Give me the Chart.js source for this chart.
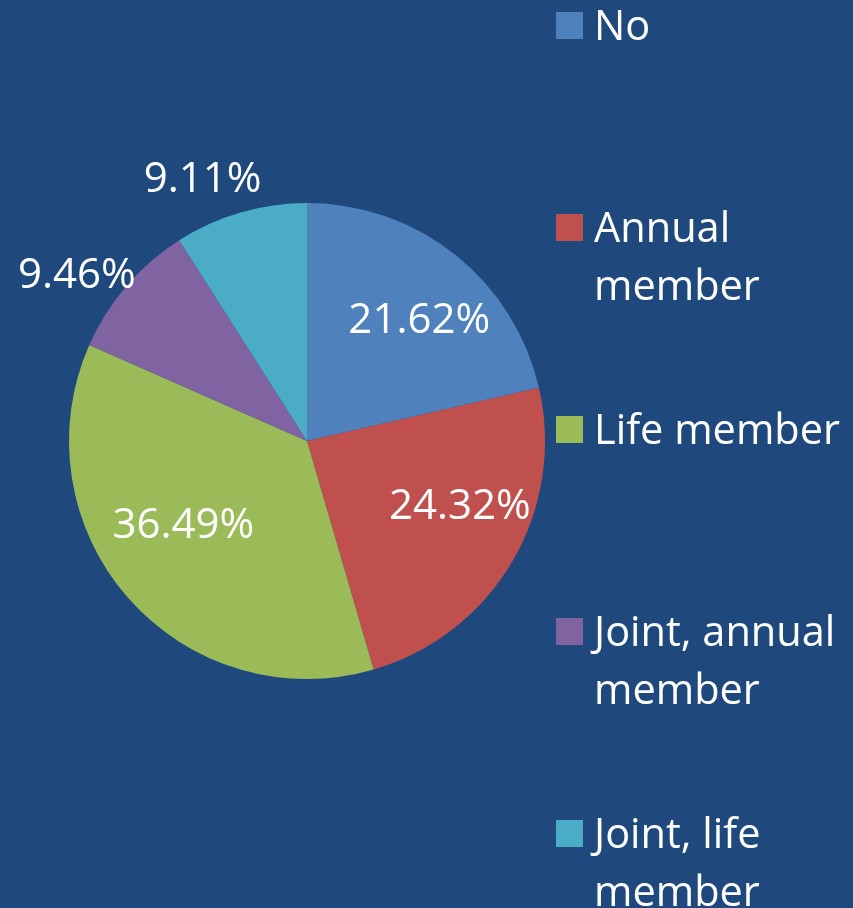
<!DOCTYPE html>
<html>
<head>
<meta charset="utf-8">
<script src="https://cdn.jsdelivr.net/npm/chart.js@4/dist/chart.umd.min.js"></script>
<style>
  html, body { margin: 0; padding: 0; background: #1F497D; }
  #wrap { position: relative; width: 853px; height: 908px; overflow: hidden; }
  #pie { position: absolute; left: 0; top: 0; }
  #legend { position: absolute; left: 556px; top: -5px; width: 297px; }
  .item { position: absolute; left: 0; display: flex; align-items: flex-start; }
  .box { width: 27px; height: 27px; margin-top: 17px; margin-right: 11px; flex: none; }
  .txt { color: #fff; font-family: "Open Sans", sans-serif; font-size: 41.5px; line-height: 58px; width: 258px; }
</style>
</head>
<body>
<div id="wrap">
  <canvas id="pie" width="853" height="908"></canvas>
  <div id="legend"></div>
</div>
<script>
const categories = ["No", "Annual member", "Life member", "Joint, annual member", "Joint, life member"]
const values = [21.62, 24.32, 36.49, 9.46, 9.11]
const valueLabels = ["21.62%", "24.32%", "36.49%", "9.46%", "9.11%"]
const colors = ["#4F81BD", "#C0504D", "#9BBB59", "#8064A2", "#4BACC6"]

// where each data label sits: fraction of radius, and a small angle nudge (deg)
const labelRadius = [0.69, 0.70, 0.63, 1.19, 1.18]
const labelNudge = [4.6, -7, 6.8, -5, -5.6]

const pieLabels = {
  id: "pieLabels",
  afterDatasetsDraw(chart) {
    const ctx = chart.ctx
    const meta = chart.getDatasetMeta(0)
    ctx.save()
    ctx.fillStyle = "#fff"
    ctx.font = '42px "Open Sans", sans-serif'
    ctx.textAlign = "center"
    ctx.textBaseline = "middle"
    meta.data.forEach((arc, i) => {
      const p = arc.getProps(["x", "y", "startAngle", "endAngle", "outerRadius"], true)
      const mid = (p.startAngle + p.endAngle) / 2 + labelNudge[i] * Math.PI / 180
      const r = p.outerRadius * labelRadius[i]
      ctx.fillText(valueLabels[i], p.x + Math.cos(mid) * r, p.y + Math.sin(mid) * r)
    })
    ctx.restore()
  }
}

new Chart(document.getElementById("pie"), {
  type: "pie",
  data: {
    labels: categories,
    datasets: [{
      data: values,
      backgroundColor: colors,
      borderWidth: 0
    }]
  },
  options: {
    responsive: false,
    animation: false,
    layout: { padding: { left: 69, right: 308, top: 203, bottom: 229 } },
    plugins: {
      legend: { display: false },
      tooltip: { enabled: false }
    }
  },
  plugins: [pieLabels]
})

// legend on the right, equal slots like the original
const legend = document.getElementById("legend")
categories.forEach((c, i) => {
  const item = document.createElement("div")
  item.className = "item"
  item.style.top = (i * 202) + "px"
  item.innerHTML = '<div class="box" style="background:' + colors[i] + '"></div><div class="txt">' + c + '</div>'
  legend.appendChild(item)
})
</script>
</body>
</html>
